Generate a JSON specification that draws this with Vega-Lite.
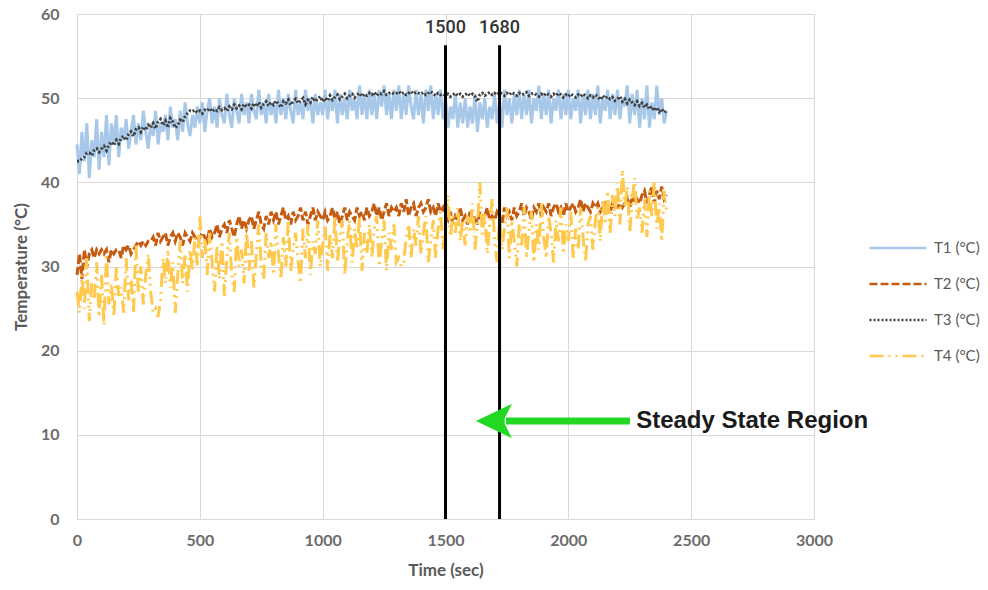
{
  "$schema": "https://vega.github.io/schema/vega-lite/v6.json",
  "width": 737,
  "height": 505,
  "autosize": {"type": "none"},
  "padding": {"left": 77, "top": 14, "right": 174, "bottom": 71},
  "background": "white",
  "config": {"view": {"stroke": null}, "font": "Lato"},
  "layer": [
    {
      "data": {"values": [
{"t":0,"T1":44.5,"T2":29,"T3":42.5,"T4":27},
{"t":10,"T1":41,"T2":31.5,"T3":42.5,"T4":24.5},
{"t":20,"T1":46,"T2":28.5,"T3":42.8,"T4":29},
{"t":30,"T1":42.5,"T2":32,"T3":43,"T4":25},
{"t":40,"T1":47,"T2":30,"T3":43.5,"T4":31},
{"t":50,"T1":40.5,"T2":31.5,"T3":43.5,"T4":23.5},
{"t":60,"T1":45,"T2":32,"T3":43.2,"T4":28},
{"t":70,"T1":43,"T2":31,"T3":43.8,"T4":26},
{"t":80,"T1":47.5,"T2":32,"T3":44,"T4":30.5},
{"t":90,"T1":41.5,"T2":31.5,"T3":43.6,"T4":24},
{"t":100,"T1":46,"T2":32,"T3":44,"T4":29},
{"t":110,"T1":43,"T2":31.5,"T3":44.3,"T4":23},
{"t":120,"T1":48,"T2":32,"T3":43.8,"T4":31.5},
{"t":130,"T1":42,"T2":30.5,"T3":44.5,"T4":25.5},
{"t":140,"T1":47,"T2":32,"T3":44.8,"T4":28},
{"t":150,"T1":44.5,"T2":31.5,"T3":44.4,"T4":24},
{"t":160,"T1":48,"T2":32,"T3":45,"T4":30},
{"t":170,"T1":43,"T2":32,"T3":44.6,"T4":26.5},
{"t":180,"T1":46.5,"T2":31,"T3":45.3,"T4":27.5},
{"t":190,"T1":45,"T2":32.5,"T3":45.5,"T4":24.5},
{"t":200,"T1":47.5,"T2":32,"T3":45,"T4":31},
{"t":210,"T1":44,"T2":32.5,"T3":45.7,"T4":26},
{"t":220,"T1":46,"T2":31.5,"T3":46,"T4":28.5},
{"t":230,"T1":48,"T2":32,"T3":45.5,"T4":24.5},
{"t":240,"T1":44.5,"T2":32.5,"T3":46.3,"T4":32.5},
{"t":250,"T1":47,"T2":33,"T3":46.5,"T4":27},
{"t":260,"T1":45,"T2":32.5,"T3":46,"T4":30},
{"t":270,"T1":48.5,"T2":33,"T3":46.6,"T4":25.5},
{"t":280,"T1":46,"T2":32.5,"T3":46.2,"T4":29},
{"t":290,"T1":44,"T2":33,"T3":46.8,"T4":31.5},
{"t":300,"T1":47,"T2":33,"T3":46.5,"T4":27},
{"t":310,"T1":45.5,"T2":33.5,"T3":47,"T4":24.5},
{"t":320,"T1":48.5,"T2":32.5,"T3":46.4,"T4":25},
{"t":330,"T1":44.5,"T2":34,"T3":47.2,"T4":24},
{"t":340,"T1":47,"T2":33,"T3":47.5,"T4":26},
{"t":350,"T1":46,"T2":33.5,"T3":46.8,"T4":31},
{"t":360,"T1":48,"T2":34,"T3":47.3,"T4":28},
{"t":370,"T1":45,"T2":32.5,"T3":46.5,"T4":32},
{"t":380,"T1":49,"T2":33.5,"T3":47.6,"T4":27.5},
{"t":390,"T1":46.5,"T2":34,"T3":47.2,"T4":30.5},
{"t":400,"T1":47.5,"T2":33,"T3":46.5,"T4":24.5},
{"t":410,"T1":45,"T2":34,"T3":46.8,"T4":29},
{"t":420,"T1":48.5,"T2":33.5,"T3":47.4,"T4":33},
{"t":430,"T1":46,"T2":32.5,"T3":47.2,"T4":28},
{"t":440,"T1":49.5,"T2":34,"T3":47.8,"T4":31.5},
{"t":450,"T1":47,"T2":33.5,"T3":48.2,"T4":27},
{"t":460,"T1":45.5,"T2":33,"T3":48.5,"T4":32},
{"t":470,"T1":48,"T2":34,"T3":48.4,"T4":29.5},
{"t":480,"T1":46.5,"T2":33.5,"T3":48.6,"T4":33.5},
{"t":490,"T1":49,"T2":33,"T3":48.3,"T4":30},
{"t":500,"T1":47,"T2":33.5,"T3":48.5,"T4":36},
{"t":510,"T1":49.5,"T2":34,"T3":48.2,"T4":31},
{"t":520,"T1":46,"T2":33.5,"T3":48.6,"T4":33.5},
{"t":530,"T1":48.5,"T2":33,"T3":48.5,"T4":29},
{"t":540,"T1":50,"T2":34.5,"T3":48.8,"T4":34},
{"t":550,"T1":47,"T2":33.5,"T3":48.4,"T4":30.5},
{"t":560,"T1":49,"T2":34,"T3":48.7,"T4":27},
{"t":570,"T1":46.5,"T2":35,"T3":48.5,"T4":32.5},
{"t":580,"T1":50,"T2":33.5,"T3":48.9,"T4":28.5},
{"t":590,"T1":48,"T2":34.5,"T3":48.6,"T4":33},
{"t":600,"T1":47,"T2":35,"T3":48.8,"T4":26.5},
{"t":610,"T1":50.5,"T2":34,"T3":48.5,"T4":31},
{"t":620,"T1":48,"T2":35.5,"T3":49,"T4":34},
{"t":630,"T1":46.5,"T2":34.5,"T3":48.7,"T4":29},
{"t":640,"T1":50,"T2":33.5,"T3":49.2,"T4":27},
{"t":650,"T1":48.5,"T2":35,"T3":48.8,"T4":33.5},
{"t":660,"T1":47,"T2":36,"T3":49.1,"T4":30},
{"t":670,"T1":50.5,"T2":34.5,"T3":48.7,"T4":32},
{"t":680,"T1":48,"T2":35.5,"T3":49.3,"T4":28},
{"t":690,"T1":49.5,"T2":34.5,"T3":49,"T4":34.5},
{"t":700,"T1":47,"T2":35.5,"T3":49.2,"T4":29.5},
{"t":710,"T1":50.5,"T2":36,"T3":48.8,"T4":33},
{"t":720,"T1":48.5,"T2":34.5,"T3":49.4,"T4":27.5},
{"t":730,"T1":47.5,"T2":35.5,"T3":49,"T4":31.5},
{"t":740,"T1":51,"T2":36.5,"T3":49.5,"T4":35},
{"t":750,"T1":48,"T2":35,"T3":48.9,"T4":30},
{"t":760,"T1":49.5,"T2":34.5,"T3":49.3,"T4":28.5},
{"t":770,"T1":47,"T2":36,"T3":49.6,"T4":34},
{"t":780,"T1":50.5,"T2":35,"T3":49.1,"T4":31},
{"t":790,"T1":48,"T2":36.5,"T3":49.5,"T4":33},
{"t":800,"T1":49.5,"T2":35.5,"T3":49.2,"T4":29},
{"t":810,"T1":47,"T2":36.5,"T3":49.7,"T4":35},
{"t":820,"T1":51,"T2":35,"T3":49.3,"T4":31.5},
{"t":830,"T1":48,"T2":36,"T3":48.9,"T4":28.5},
{"t":840,"T1":50,"T2":37,"T3":49.6,"T4":33.5},
{"t":850,"T1":47.5,"T2":35.5,"T3":49.4,"T4":30},
{"t":860,"T1":50.5,"T2":36,"T3":49.8,"T4":35.5},
{"t":870,"T1":48.5,"T2":35,"T3":49.2,"T4":29.5},
{"t":880,"T1":47,"T2":36.5,"T3":49.6,"T4":32},
{"t":890,"T1":51,"T2":35.5,"T3":49.9,"T4":34},
{"t":900,"T1":48,"T2":36,"T3":49.4,"T4":30.5},
{"t":910,"T1":49.5,"T2":37,"T3":49.7,"T4":28},
{"t":920,"T1":47.5,"T2":35.5,"T3":50,"T4":34.5},
{"t":930,"T1":51,"T2":36.5,"T3":49.3,"T4":31},
{"t":940,"T1":48.5,"T2":35,"T3":49.8,"T4":35},
{"t":950,"T1":50,"T2":36,"T3":49.5,"T4":29},
{"t":960,"T1":47,"T2":37,"T3":50.1,"T4":33},
{"t":970,"T1":50.5,"T2":35.5,"T3":49.6,"T4":31.5},
{"t":980,"T1":48,"T2":36.5,"T3":49.9,"T4":35.5},
{"t":990,"T1":49.5,"T2":36,"T3":50.2,"T4":30},
{"t":1000,"T1":48,"T2":35.5,"T3":49.6,"T4":32.5},
{"t":1010,"T1":51,"T2":36.5,"T3":50,"T4":35},
{"t":1020,"T1":47.5,"T2":35.5,"T3":49.7,"T4":29.5},
{"t":1030,"T1":50,"T2":36,"T3":50.3,"T4":34},
{"t":1040,"T1":48.5,"T2":37,"T3":49.8,"T4":31},
{"t":1050,"T1":51,"T2":35.5,"T3":50.1,"T4":36},
{"t":1060,"T1":47,"T2":36.5,"T3":50.4,"T4":30.5},
{"t":1070,"T1":50.5,"T2":35,"T3":49.9,"T4":33.5},
{"t":1080,"T1":48,"T2":36,"T3":50.2,"T4":35.5},
{"t":1090,"T1":50,"T2":37,"T3":50.5,"T4":29},
{"t":1100,"T1":47.5,"T2":35.5,"T3":50,"T4":33},
{"t":1110,"T1":51,"T2":36.5,"T3":50.3,"T4":35.5},
{"t":1120,"T1":48.5,"T2":36,"T3":50.5,"T4":30.5},
{"t":1130,"T1":50,"T2":35.5,"T3":50.1,"T4":34.5},
{"t":1140,"T1":47.5,"T2":37,"T3":50.4,"T4":32},
{"t":1150,"T1":51.5,"T2":36,"T3":50.6,"T4":36},
{"t":1160,"T1":48,"T2":36.5,"T3":50.2,"T4":29.5},
{"t":1170,"T1":50.5,"T2":35.5,"T3":50.5,"T4":34},
{"t":1180,"T1":47.5,"T2":37,"T3":50.3,"T4":31.5},
{"t":1190,"T1":51,"T2":36,"T3":50.6,"T4":35},
{"t":1200,"T1":48,"T2":36.5,"T3":50.4,"T4":31},
{"t":1210,"T1":50.5,"T2":37.5,"T3":50.7,"T4":34.5},
{"t":1220,"T1":47.5,"T2":36,"T3":50.3,"T4":36},
{"t":1230,"T1":51,"T2":37,"T3":50.6,"T4":30},
{"t":1240,"T1":49,"T2":35.5,"T3":50.5,"T4":33},
{"t":1250,"T1":51.5,"T2":36.5,"T3":50.8,"T4":35.5},
{"t":1260,"T1":48,"T2":37.5,"T3":50.4,"T4":29.5},
{"t":1270,"T1":50.5,"T2":36,"T3":50.6,"T4":34},
{"t":1280,"T1":47.5,"T2":37,"T3":50.7,"T4":32},
{"t":1290,"T1":51,"T2":36.5,"T3":50.5,"T4":35},
{"t":1300,"T1":48.5,"T2":37,"T3":50.6,"T4":30.5},
{"t":1310,"T1":51.5,"T2":36,"T3":50.8,"T4":31},
{"t":1320,"T1":47.5,"T2":37.5,"T3":50.5,"T4":30},
{"t":1330,"T1":50.5,"T2":36.5,"T3":50.7,"T4":30.5},
{"t":1340,"T1":48,"T2":38,"T3":50.4,"T4":33.5},
{"t":1350,"T1":51.5,"T2":36,"T3":50.6,"T4":35},
{"t":1360,"T1":49,"T2":37,"T3":50.8,"T4":31},
{"t":1370,"T1":47.5,"T2":37.5,"T3":50.5,"T4":34.5},
{"t":1380,"T1":51,"T2":36,"T3":50.7,"T4":32.5},
{"t":1390,"T1":48,"T2":37,"T3":50.6,"T4":36},
{"t":1400,"T1":50.5,"T2":37.5,"T3":50.5,"T4":31.5},
{"t":1410,"T1":47,"T2":36.5,"T3":50.7,"T4":34},
{"t":1420,"T1":51,"T2":37,"T3":50.4,"T4":36},
{"t":1430,"T1":48.5,"T2":38,"T3":50.6,"T4":30.5},
{"t":1440,"T1":51.5,"T2":36.5,"T3":50.8,"T4":33},
{"t":1450,"T1":47.5,"T2":37,"T3":50.5,"T4":35.5},
{"t":1460,"T1":50.5,"T2":36,"T3":50.3,"T4":31},
{"t":1470,"T1":48,"T2":37.5,"T3":50.6,"T4":34.5},
{"t":1480,"T1":51,"T2":36.5,"T3":50.4,"T4":36.5},
{"t":1490,"T1":47.5,"T2":37,"T3":50.5,"T4":32},
{"t":1500,"T1":50,"T2":36,"T3":50.3,"T4":35},
{"t":1510,"T1":46.5,"T2":35.5,"T3":50.5,"T4":38.5},
{"t":1520,"T1":49,"T2":36.5,"T3":50.2,"T4":33.5},
{"t":1530,"T1":47.5,"T2":35,"T3":50.4,"T4":36},
{"t":1540,"T1":50.5,"T2":36,"T3":50.6,"T4":34},
{"t":1550,"T1":46.5,"T2":35.5,"T3":50.3,"T4":37},
{"t":1560,"T1":49.5,"T2":37,"T3":50.5,"T4":33},
{"t":1570,"T1":47,"T2":35.5,"T3":50.2,"T4":35.5},
{"t":1580,"T1":50,"T2":36,"T3":50.4,"T4":32.5},
{"t":1590,"T1":46.5,"T2":35,"T3":50.6,"T4":36},
{"t":1600,"T1":49,"T2":36.5,"T3":50.3,"T4":34},
{"t":1610,"T1":47,"T2":35.5,"T3":50.5,"T4":37.5},
{"t":1620,"T1":50.5,"T2":36,"T3":50.2,"T4":32},
{"t":1630,"T1":46,"T2":35,"T3":49.6,"T4":35},
{"t":1640,"T1":49.5,"T2":36.5,"T3":50.4,"T4":40},
{"t":1650,"T1":47.5,"T2":35.5,"T3":50.6,"T4":33.5},
{"t":1660,"T1":50,"T2":36,"T3":50.3,"T4":36.5},
{"t":1670,"T1":46.5,"T2":37,"T3":50.5,"T4":31.5},
{"t":1680,"T1":49,"T2":35.5,"T3":50.7,"T4":35},
{"t":1690,"T1":47.5,"T2":36,"T3":50.4,"T4":38},
{"t":1700,"T1":50.5,"T2":35.5,"T3":50.6,"T4":33},
{"t":1710,"T1":47,"T2":36.5,"T3":50.4,"T4":30.5},
{"t":1720,"T1":49.5,"T2":36,"T3":50.7,"T4":36},
{"t":1730,"T1":46.5,"T2":35,"T3":50.5,"T4":32},
{"t":1740,"T1":51,"T2":37,"T3":50.3,"T4":34.5},
{"t":1750,"T1":48,"T2":36,"T3":50.6,"T4":37},
{"t":1760,"T1":50,"T2":36.5,"T3":50.4,"T4":31},
{"t":1770,"T1":47,"T2":35.5,"T3":50.7,"T4":35.5},
{"t":1780,"T1":50.5,"T2":37,"T3":50.5,"T4":33},
{"t":1790,"T1":48,"T2":36,"T3":50.3,"T4":30},
{"t":1800,"T1":51,"T2":36.5,"T3":50.6,"T4":35},
{"t":1810,"T1":47.5,"T2":37.5,"T3":50.4,"T4":32.5},
{"t":1820,"T1":50.5,"T2":36,"T3":50.5,"T4":37},
{"t":1830,"T1":48,"T2":37,"T3":50.7,"T4":31},
{"t":1840,"T1":51,"T2":36.5,"T3":50.3,"T4":34.5},
{"t":1850,"T1":47,"T2":35.5,"T3":50.5,"T4":36.5},
{"t":1860,"T1":50,"T2":37,"T3":50.6,"T4":30.5},
{"t":1870,"T1":48.5,"T2":36.5,"T3":50.4,"T4":35},
{"t":1880,"T1":51.5,"T2":37.5,"T3":50.2,"T4":32},
{"t":1890,"T1":47.5,"T2":36,"T3":50.5,"T4":37.5},
{"t":1900,"T1":50.5,"T2":37,"T3":50.3,"T4":33.5},
{"t":1910,"T1":48,"T2":36.5,"T3":50.6,"T4":31},
{"t":1920,"T1":51,"T2":37.5,"T3":50.4,"T4":36},
{"t":1930,"T1":47,"T2":36,"T3":50.2,"T4":34},
{"t":1940,"T1":50,"T2":37,"T3":50.5,"T4":30.5},
{"t":1950,"T1":48.5,"T2":37.5,"T3":50.3,"T4":35.5},
{"t":1960,"T1":51,"T2":36.5,"T3":50.6,"T4":33},
{"t":1970,"T1":47.5,"T2":37,"T3":50.4,"T4":37},
{"t":1980,"T1":50.5,"T2":36,"T3":50.1,"T4":31.5},
{"t":1990,"T1":48,"T2":37.5,"T3":50.4,"T4":35},
{"t":2000,"T1":51,"T2":36.5,"T3":50.2,"T4":33},
{"t":2010,"T1":47.5,"T2":37,"T3":50.5,"T4":36.5},
{"t":2020,"T1":50,"T2":37.5,"T3":50.3,"T4":31},
{"t":2030,"T1":48.5,"T2":36.5,"T3":50.1,"T4":34.5},
{"t":2040,"T1":51,"T2":37,"T3":50.4,"T4":32},
{"t":2050,"T1":47,"T2":38,"T3":50.2,"T4":37},
{"t":2060,"T1":50.5,"T2":36.5,"T3":50.5,"T4":33.5},
{"t":2070,"T1":48,"T2":37.5,"T3":50.3,"T4":30.5},
{"t":2080,"T1":51,"T2":37,"T3":50,"T4":35},
{"t":2090,"T1":47.5,"T2":36.5,"T3":50.3,"T4":36},
{"t":2100,"T1":50.5,"T2":37.5,"T3":50.1,"T4":32},
{"t":2110,"T1":48,"T2":37,"T3":50.4,"T4":35.5},
{"t":2120,"T1":51.5,"T2":37.5,"T3":50.2,"T4":37},
{"t":2130,"T1":47,"T2":36.5,"T3":49.8,"T4":33},
{"t":2140,"T1":50,"T2":37,"T3":50.3,"T4":38},
{"t":2150,"T1":48.5,"T2":37.5,"T3":50,"T4":35},
{"t":2160,"T1":51,"T2":37,"T3":50.2,"T4":39},
{"t":2170,"T1":47.5,"T2":36.5,"T3":49.9,"T4":34},
{"t":2180,"T1":50.5,"T2":37.5,"T3":50.1,"T4":38.5},
{"t":2190,"T1":48,"T2":37,"T3":49.7,"T4":36},
{"t":2200,"T1":51,"T2":37,"T3":49.9,"T4":40},
{"t":2210,"T1":47.5,"T2":37.5,"T3":50.2,"T4":35},
{"t":2220,"T1":50,"T2":37,"T3":49.6,"T4":41.5},
{"t":2230,"T1":49,"T2":37.5,"T3":49.9,"T4":37},
{"t":2240,"T1":51.5,"T2":38,"T3":49.4,"T4":39.5},
{"t":2250,"T1":47,"T2":37,"T3":49.8,"T4":34},
{"t":2260,"T1":50.5,"T2":38.5,"T3":49.5,"T4":38},
{"t":2270,"T1":48,"T2":37.5,"T3":49.2,"T4":40.5},
{"t":2280,"T1":51,"T2":38,"T3":49.6,"T4":35.5},
{"t":2290,"T1":46.5,"T2":37.5,"T3":49.1,"T4":37},
{"t":2300,"T1":50,"T2":38.5,"T3":49.4,"T4":34},
{"t":2310,"T1":47.5,"T2":39,"T3":48.9,"T4":38},
{"t":2320,"T1":51.5,"T2":37.5,"T3":49.2,"T4":33.5},
{"t":2330,"T1":46.5,"T2":38.5,"T3":48.7,"T4":39},
{"t":2340,"T1":49.5,"T2":39.5,"T3":49,"T4":36},
{"t":2350,"T1":47.5,"T2":37.5,"T3":48.5,"T4":40},
{"t":2360,"T1":51.5,"T2":39,"T3":48.9,"T4":34.5},
{"t":2370,"T1":48,"T2":38,"T3":48.4,"T4":37.5},
{"t":2380,"T1":50,"T2":39.5,"T3":48.7,"T4":33},
{"t":2390,"T1":47,"T2":38,"T3":48.3,"T4":39},
{"t":2400,"T1":48.5,"T2":38.5,"T3":48.5,"T4":36.5}
      ]},
      "transform": [{"fold": ["T1", "T2", "T3", "T4"], "as": ["series", "temp"]}],
      "mark": {"type": "line", "strokeWidth": 3},
      "encoding": {
        "x": {
          "field": "t", "type": "quantitative",
          "scale": {"domain": [0, 3000], "nice": false},
          "axis": {
            "values": [0, 500, 1000, 1500, 2000, 2500, 3000], "format": "d",
            "title": "Time (sec)", "titleFontSize": 17, "titleFontWeight": "bold", "titleColor": "#595959", "titlePadding": 14,
            "labelFontSize": 16, "labelFontWeight": "bold", "labelColor": "#6b6b6b", "labelPadding": 13, "labelFlush": false,
            "ticks": false, "grid": true, "gridColor": "#D9D9D9", "domainColor": "#D9D9D9"
          }
        },
        "y": {
          "field": "temp", "type": "quantitative",
          "scale": {"domain": [0, 60], "nice": false},
          "axis": {
            "values": [0, 10, 20, 30, 40, 50, 60],
            "title": "Temperature (°C)", "titleFontSize": 17, "titleFontWeight": "bold", "titleColor": "#595959", "titlePadding": 10,
            "labelFontSize": 16, "labelFontWeight": "bold", "labelColor": "#6b6b6b", "labelPadding": 18,
            "ticks": false, "domain": false, "grid": true, "gridColor": "#D9D9D9"
          }
        },
        "color": {
          "field": "series", "type": "nominal",
          "scale": {"domain": ["T1", "T2", "T3", "T4"], "range": ["#A7C8E8", "#C55A11", "#404040", "#FFC94D"]},
          "legend": {"orient": "none", "legendX": 791, "legendY": 216, "title": null, "symbolType": "stroke", "symbolSize": 3249, "symbolStrokeWidth": 2.5, "labelExpr": "datum.label + ' (°C)'", "labelFontSize": 15, "labelColor": "#595959", "labelFont": "Lato", "labelOffset": 6, "clipHeight": 36, "rowPadding": 0, "padding": 0}
        },
        "strokeDash": {
          "field": "series", "type": "nominal",
          "scale": {"domain": ["T1", "T2", "T3", "T4"], "range": [[1, 0], [8, 3], [2, 2], [14, 5, 2, 5, 2, 5]]},
          "legend": {"orient": "none", "legendX": 791, "legendY": 216, "title": null, "symbolType": "stroke", "symbolSize": 3249, "symbolStrokeWidth": 2.5, "labelExpr": "datum.label + ' (°C)'", "labelFontSize": 15, "labelColor": "#595959", "labelFont": "Lato", "labelOffset": 6, "clipHeight": 36, "rowPadding": 0, "padding": 0}
        }
      }
    },
    {
      "data": {"values": [{"t": 1500, "lab": "1500"}, {"t": 1720, "lab": "1680"}]},
      "layer": [
        {
          "mark": {"type": "rule", "color": "black", "strokeWidth": 3},
          "encoding": {"x": {"field": "t", "type": "quantitative"}, "y": {"datum": 0}, "y2": {"datum": 56.3}}
        },
        {
          "mark": {"type": "text", "font": "Roboto", "fontSize": 18, "fontWeight": 500, "color": "#333333"},
          "encoding": {"x": {"field": "t", "type": "quantitative"}, "y": {"datum": 58.3}, "text": {"field": "lab"}}
        }
      ]
    },
    {
      "data": {"values": [{"tip": 1697, "from": 1746, "to": 2251, "v": 11.64, "tx": 2276, "txt": "Steady State Region"}]},
      "layer": [
        {
          "mark": {"type": "rule", "color": "#22D822", "strokeWidth": 7},
          "encoding": {"x": {"field": "from", "type": "quantitative"}, "x2": {"field": "to"}, "y": {"field": "v", "type": "quantitative"}}
        },
        {
          "mark": {"type": "point", "shape": "M-1,0L1,-0.95L0.6,-0.15L0.6,0.15L1,0.95Z", "size": 1296, "filled": true, "color": "#22D822", "opacity": 1},
          "encoding": {"x": {"field": "tip", "type": "quantitative"}, "y": {"field": "v", "type": "quantitative"}}
        },
        {
          "mark": {"type": "text", "font": "Liberation Sans", "fontWeight": "bold", "fontSize": 24, "align": "left", "color": "#1a1a1a"},
          "encoding": {"x": {"field": "tx", "type": "quantitative"}, "y": {"field": "v", "type": "quantitative"}, "text": {"field": "txt"}}
        }
      ]
    }
  ]
}
